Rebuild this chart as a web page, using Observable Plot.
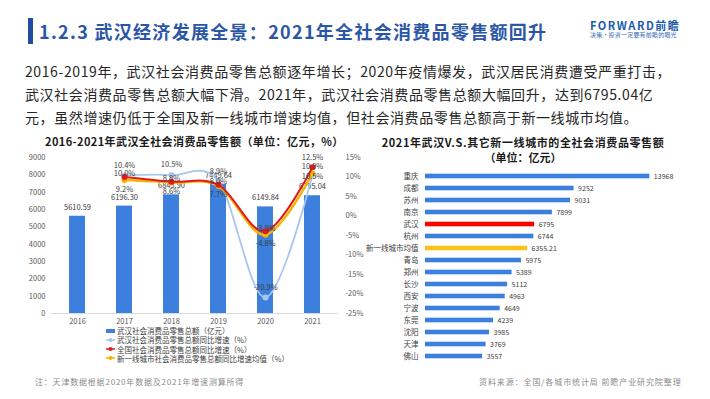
<!DOCTYPE html>
<html><head><meta charset="utf-8">
<script src="https://cdn.jsdelivr.net/npm/d3@7"></script>
<script src="https://cdn.jsdelivr.net/npm/@observablehq/plot@0.6"></script>
<style>
body{margin:0;background:#fff;}
#page{position:relative;width:710px;height:399px;overflow:hidden;font-family:"Noto Sans CJK SC","Noto Sans",sans-serif;background:#fff;}
.abs{position:absolute;white-space:nowrap;line-height:1;}
.para{font-size:14px;color:#262626;letter-spacing:0.6px;left:25px;}
.leg{font-size:7.5px;color:#404040;left:106px;display:flex;align-items:center;}
.leg svg{margin-right:2px;}
</style></head>
<body><div id="page">
<div class="abs" style="left:28px;top:18px;width:5px;height:26px;background:#1f4ea0"></div>
<div class="abs" style="left:39px;top:21.5px;font-size:18px;font-weight:700;color:#2b56a6;letter-spacing:1.3px">1.2.3 武汉经济发展全景：2021年全社会消费品零售额回升</div>
<div class="abs" style="left:590px;top:19.5px;font-size:11px;font-weight:700;color:#1b5aad;letter-spacing:1.5px">FORWARD前瞻</div>
<div class="abs" style="left:590px;top:31.7px;font-size:6px;color:#3a6bb5;letter-spacing:0.2px">决策·投资一定要有前瞻的眼光</div>

<div class="abs para" style="top:64px">2016-2019年，武汉社会消费品零售总额逐年增长；2020年疫情爆发，武汉居民消费遭受严重打击，</div>
<div class="abs para" style="top:87px">武汉社会消费品零售总额大幅下滑。2021年，武汉社会消费品零售总额大幅回升，达到6795.04亿</div>
<div class="abs para" style="top:110px">元，虽然增速仍低于全国及新一线城市增速均值，但社会消费品零售总额高于新一线城市均值。</div>

<div class="abs" style="left:45px;top:136.2px;width:295px;text-align:center;font-size:11px;font-weight:700;color:#1a1a1a;letter-spacing:0.4px">2016-2021年武汉全社会消费品零售额（单位：亿元，%）</div>
<div class="abs" style="left:372px;top:137px;width:302px;text-align:center;font-size:11px;font-weight:700;color:#1a1a1a;letter-spacing:0.6px">2021年武汉V.S.其它新一线城市的全社会消费品零售额</div>
<div class="abs" style="left:372px;top:151.6px;width:302px;text-align:center;font-size:11px;font-weight:700;color:#1a1a1a">（单位：亿元）</div>

<div id="leftChart" class="abs" style="left:0;top:145px"></div>
<div id="rightChart" class="abs" style="left:360px;top:160px"></div>
<div id="legend"></div>

<div class="abs" style="left:35px;top:377.6px;font-size:8px;color:#8c8c8c;letter-spacing:0.8px">注：天津数据根据2020年数据及2021年增速测算所得</div>
<div class="abs" style="left:479px;top:377.6px;font-size:8px;color:#8c8c8c;letter-spacing:0.9px">资料来源：全国/各城市统计局 前瞻产业研究院整理</div>
</div>
<script>
// ---- data ----
const years = ["2016", "2017", "2018", "2019", "2020", "2021"];
const wuhanSales = [5610.59, 6196.30, 6843.90, 7449.64, 6149.84, 6795.04];
const growthYears = ["2017", "2018", "2019", "2020", "2021"];
const wuhanGrowth = [10.4, 10.5, 8.9, -20.9, 10.5];
const nationalGrowth = [10.0, 8.8, 8.0, -3.9, 12.5];
const tier1Growth = [9.2, 8.6, 7.7, -4.8, 10.9];
const leftTicks = [0, 1000, 2000, 3000, 4000, 5000, 6000, 7000, 8000, 9000];
const pctTicks = [-25, -20, -15, -10, -5, 0, 5, 10, 15];
const legendLabels = ["武汉社会消费品零售总额（亿元）", "武汉社会消费品零售总额同比增速（%）", "全国社会消费品零售总额同比增速（%）", "新一线城市社会消费品零售总额同比增速均值（%）"];

const cities = ["重庆", "成都", "苏州", "南京", "武汉", "杭州", "新一线城市均值", "青岛", "郑州", "长沙", "西安", "宁波", "东莞", "沈阳", "天津", "佛山"];
const citySales = [13968, 9252, 9031, 7899, 6795, 6744, 6355.21, 5975, 5389, 5112, 4963, 4649, 4239, 3985, 3769, 3557];

// ---- styles ----
const BLUE = "#3d7fdc", LIGHT = "#a9c6ee", RED = "#e31a1a", YELLOW = "#f5b400";
const FONT = '"Noto Sans CJK SC","Noto Sans",sans-serif';

// ---- left chart ----
const salesData = years.map((y, i) => ({year: y, value: wuhanSales[i]}));
const growthData = growthYears.map((y, i) => ({year: y, wuhan: wuhanGrowth[i], national: nationalGrowth[i], tier1: tier1Growth[i]}));
const toY = p => (p + 25) * 225; // right axis [-25,15] -> left axis [0,9000]
const last = "2021";
const pctFmt = v => v.toFixed(1) + "%";

function series(key, color, width, dyMain, dyLast) {
  return [
    Plot.line(growthData, {x: "year", y: d => toY(d[key]), curve: "cardinal", stroke: color, strokeWidth: width}),
    Plot.dot(growthData, {x: "year", y: d => toY(d[key]), r: 2.3, fill: color, stroke: color}),
  ];
}
function labels(key, dyMain, dyLast) {
  return [
    Plot.text(growthData, {filter: d => d.year !== last, x: "year", y: d => toY(d[key]), text: d => pctFmt(d[key]), dy: dyMain, fill: "#404040", fontSize: 7.5}),
    Plot.text(growthData, {filter: d => d.year === last, x: "year", y: d => toY(d[key]), text: d => pctFmt(d[key]), dy: dyLast, fill: "#404040", fontSize: 7.5}),
  ];
}

const left = Plot.plot({
  width: 360, height: 190,
  marginLeft: 51, marginRight: 22, marginTop: 12, marginBottom: 22,
  style: {fontFamily: FONT, fontSize: "7.5px", color: "#595959", background: "transparent", overflow: "visible"},
  x: {domain: years, paddingInner: 0.67, paddingOuter: 0.34, label: null},
  y: {domain: [0, 9000], label: null},
  marks: [
    Plot.axisY({ticks: leftTicks, tickFormat: d => String(d), tickSize: 0, tickPadding: 6, label: null, fontSize: 7.5}),
    Plot.axisY({anchor: "right", ticks: pctTicks.map(toY), tickFormat: v => Math.round(v / 225 - 25) + "%", tickSize: 0, tickPadding: 7, label: null, fontSize: 7.5}),
    Plot.axisX({tickSize: 0, tickPadding: 5, label: null, fontSize: 7.5}),
    Plot.barY(salesData, {x: "year", y: "value", fill: BLUE}),
    Plot.ruleY([0], {stroke: "#d9d9d9"}),
    Plot.text(salesData, {x: "year", y: "value", text: d => d.value.toFixed(2), dy: -9, fill: "#404040", fontSize: 7.5}),
    ...series("wuhan", LIGHT, 1.8),
    ...series("tier1", YELLOW, 2.5),
    ...series("national", RED, 2),
    ...labels("wuhan", -10, 2),
    ...labels("national", -3, -10),
    ...labels("tier1", 9, -7),
  ]
});
document.getElementById("leftChart").appendChild(left);

// ---- legend ----
const legendSw = [
  `<svg width="9" height="8"><rect x="0" y="2" width="9" height="4" fill="${BLUE}"/></svg>`,
  `<svg width="9" height="8"><line x1="0" x2="9" y1="4" y2="4" stroke="${LIGHT}" stroke-width="1.5"/><circle cx="4.5" cy="4" r="2" fill="${LIGHT}"/></svg>`,
  `<svg width="9" height="8"><line x1="0" x2="9" y1="4" y2="4" stroke="${RED}" stroke-width="1.5"/><circle cx="4.5" cy="4" r="2" fill="${RED}"/></svg>`,
  `<svg width="9" height="8"><line x1="0" x2="9" y1="4" y2="4" stroke="${YELLOW}" stroke-width="1.5"/><circle cx="4.5" cy="4" r="2" fill="${YELLOW}"/></svg>`,
];
const legTops = [327, 336, 345.3, 354.3];
document.getElementById("legend").innerHTML = legendLabels.map((t, i) =>
  `<div class="abs leg" style="top:${legTops[i]}px">${legendSw[i]}<span>${t}</span></div>`).join("");

// ---- right chart ----
const cityData = cities.map((c, i) => ({city: c, value: citySales[i]}));
const cityColor = c => c === "武汉" ? "#ff0000" : c === "新一线城市均值" ? "#f7c21b" : BLUE;
const right = Plot.plot({
  width: 350, height: 210,
  marginLeft: 65, marginRight: 28, marginTop: 6, marginBottom: 4.5,
  style: {fontFamily: FONT, fontSize: "7.5px", color: "#404040", background: "transparent", overflow: "visible"},
  x: {domain: [0, 16000], axis: null},
  y: {domain: cities, padding: 0, axis: null},
  color: {type: "identity"},
  marks: [
    Plot.barX(cityData, {y: "city", x: "value", fill: d => cityColor(d.city), insetTop: 3.7, insetBottom: 3.7}),
    Plot.text(cityData, {y: "city", x: "value", text: d => Number.isInteger(d.value) ? String(d.value) : d.value.toFixed(2), dx: 4, textAnchor: "start", fill: "#404040", fontSize: 7}),
    Plot.axisY({tickSize: 0, tickPadding: 7, label: null, fontSize: 7.5}),
  ]
});
document.getElementById("rightChart").appendChild(right);
</script>
</body></html>
